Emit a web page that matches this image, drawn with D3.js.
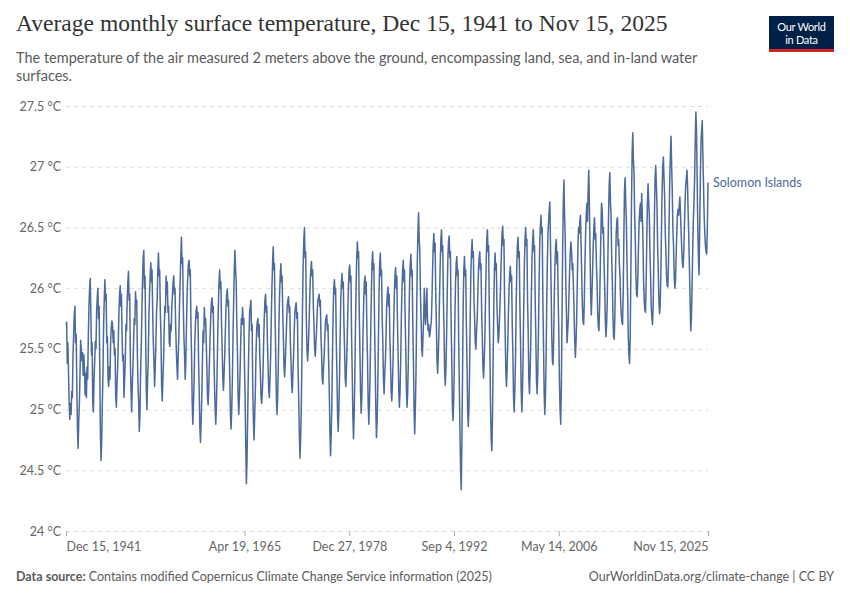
<!doctype html>
<html lang="en">
<head>
  <meta charset="utf-8">
  <title>Average monthly surface temperature</title>
  <style>
    body { margin: 0; background: #fff; }
    text { font-family: Lato, "Noto Sans", sans-serif; }
  </style>
</head>
<body>
  <script src="https://cdn.jsdelivr.net/npm/d3@7"></script>
  <script>
    // Monthly values (°C), Solomon Islands, starting Dec 15, 1941
    const firstMonth = new Date(1941, 11, 15);

    const temps1940s = [
      25.70,
      25.72, 25.38, 25.55, 25.30, 25.05, 24.92, 25.05, 24.96, 25.15, 25.10, 25.45, 25.62,
      25.78, 25.85, 25.55, 25.62, 25.20, 24.85, 24.68, 24.90, 25.05, 25.30, 25.57, 25.50,
      25.40, 25.47, 25.28, 25.45, 25.33, 25.12, 25.30, 25.10, 25.35, 25.25, 25.60, 25.85,
      26.00, 26.08, 25.80, 25.45, 25.55, 25.05, 24.98, 25.25, 25.40, 25.56, 25.50, 25.80,
      25.92, 26.00, 25.75, 25.85, 25.35, 24.80, 24.58, 24.75, 25.05, 25.30, 25.70, 25.90,
      26.07, 25.90, 25.95, 25.55, 25.60, 25.25, 25.19, 25.35, 25.25, 25.55, 25.68, 25.73,
      25.70, 25.55, 25.65, 25.45, 25.50, 25.10, 25.02, 25.20, 25.35, 25.55, 25.80, 25.95,
      26.02, 25.85, 25.95, 25.60, 25.40, 25.45, 25.10, 25.25, 25.40, 25.70, 25.65, 25.90
    ];

    const temps1950s = [
      26.05, 26.14, 25.90, 25.95, 25.40, 25.15, 24.98, 25.20, 25.35, 25.55, 25.75, 25.70,
      25.97, 25.85, 25.90, 25.45, 25.20, 25.05, 24.82, 24.95, 25.30, 25.50, 25.80, 26.05,
      26.25, 26.31, 26.00, 26.10, 25.60, 25.15, 25.00, 25.25, 25.40, 25.75, 25.95, 26.10,
      26.21, 26.05, 26.15, 25.80, 25.55, 25.40, 25.19, 25.35, 25.55, 25.80, 25.90, 26.15,
      26.29, 26.10, 26.15, 25.80, 25.60, 25.20, 25.07, 25.25, 25.40, 25.65, 25.85, 25.80,
      26.10, 25.95, 26.05, 25.80, 25.85, 25.55, 25.52, 25.70, 25.65, 25.85, 25.95, 26.05,
      26.10, 25.95, 26.00, 25.70, 25.50, 25.35, 25.25, 25.45, 25.60, 25.85, 26.05, 26.25,
      26.42, 26.20, 26.25, 25.85, 25.60, 25.45, 25.25, 25.40, 25.70, 25.95, 26.10, 26.20,
      26.23, 26.10, 26.15, 25.70, 25.45, 25.05, 24.88, 25.05, 25.25, 25.55, 25.70, 25.80,
      25.85, 25.75, 25.80, 25.40, 25.15, 24.85, 24.73, 24.90, 25.10, 25.40, 25.65, 25.55
    ];

    const temps1960s = [
      25.84, 25.70, 25.75, 25.55, 25.35, 25.10, 25.04, 25.20, 25.40, 25.60, 25.75, 25.88,
      25.92, 25.80, 25.85, 25.45, 25.20, 25.00, 24.88, 25.05, 25.30, 25.60, 25.85, 26.05,
      26.15, 26.00, 26.05, 25.70, 25.50, 25.25, 25.16, 25.30, 25.45, 25.65, 25.85, 25.95,
      25.99, 25.85, 25.90, 25.50, 25.25, 24.95, 24.84, 25.00, 25.25, 25.60, 25.90, 26.15,
      26.31, 26.15, 26.05, 25.70, 25.45, 25.10, 24.96, 25.10, 25.30, 25.55, 25.75, 25.70,
      25.84, 25.70, 25.75, 25.35, 25.10, 24.70, 24.39, 24.60, 24.95, 25.30, 25.60, 25.80,
      25.85, 25.90, 25.65, 25.70, 25.15, 24.90, 24.75, 24.95, 25.15, 25.45, 25.65, 25.72,
      25.75, 25.60, 25.70, 25.45, 25.30, 25.10, 25.05, 25.15, 25.30, 25.55, 25.75, 25.90,
      25.95, 25.80, 25.85, 25.55, 25.35, 25.15, 25.10, 25.25, 25.45, 25.75, 26.00, 26.20,
      26.34, 26.15, 26.20, 25.75, 25.45, 25.10, 24.96, 25.10, 25.35, 25.70, 25.95, 26.10
    ];

    const temps1970s = [
      26.20, 26.05, 26.10, 25.80, 25.60, 25.35, 25.27, 25.40, 25.55, 25.70, 25.85, 25.90,
      25.93, 25.80, 25.85, 25.55, 25.40, 25.20, 25.14, 25.30, 25.45, 25.65, 25.80, 25.85,
      25.88, 25.75, 25.80, 25.35, 25.10, 24.80, 24.60, 24.75, 25.00, 25.40, 25.85, 26.20,
      26.40, 26.50, 26.25, 26.30, 25.75, 25.50, 25.40, 25.50, 25.65, 25.85, 26.05, 26.15,
      26.22, 26.10, 26.15, 25.85, 25.70, 25.50, 25.44, 25.55, 25.65, 25.80, 25.90, 25.92,
      25.95, 25.85, 25.90, 25.60, 25.45, 25.25, 25.21, 25.35, 25.45, 25.60, 25.72, 25.76,
      25.78, 25.65, 25.70, 25.40, 25.15, 24.80, 24.62, 24.80, 25.05, 25.45, 25.80, 26.00,
      26.07, 25.95, 26.00, 25.55, 25.30, 24.95, 24.82, 25.00, 25.25, 25.60, 25.90, 26.05,
      26.12, 26.00, 26.05, 25.70, 25.50, 25.25, 25.19, 25.35, 25.55, 25.80, 26.00, 26.15,
      26.19, 26.05, 26.10, 25.60, 25.30, 24.95, 24.76, 24.95, 25.25, 25.65, 26.00, 26.25
    ];

    const temps1980s = [
      26.38, 26.25, 26.30, 25.80, 25.50, 25.15, 24.97, 25.10, 25.35, 25.65, 25.90, 26.05,
      26.10, 25.95, 26.05, 25.65, 25.40, 25.05, 24.88, 25.05, 25.30, 25.65, 25.95, 26.20,
      26.30, 26.15, 26.20, 25.70, 25.40, 25.00, 24.77, 24.90, 25.15, 25.55, 25.95, 26.20,
      26.29, 26.10, 26.15, 25.75, 25.55, 25.25, 25.13, 25.30, 25.40, 25.60, 25.85, 25.95,
      26.01, 25.85, 25.95, 25.60, 25.40, 25.15, 25.07, 25.20, 25.40, 25.70, 25.95, 26.10,
      26.17, 26.00, 26.10, 25.70, 25.45, 25.15, 25.02, 25.15, 25.40, 25.75, 26.00, 26.15,
      26.23, 26.05, 26.15, 25.75, 25.50, 25.15, 25.02, 25.15, 25.40, 25.75, 26.05, 26.20,
      26.28, 26.10, 26.15, 25.70, 25.40, 25.00, 24.80, 25.00, 25.30, 25.75, 26.20, 26.45,
      26.62, 26.40, 26.30, 25.95, 25.75, 25.50, 25.44, 25.60, 25.75, 26.00, 25.80, 25.70,
      25.85, 26.00, 25.75, 25.65, 25.70, 25.60, 25.62, 25.68, 25.72, 25.90, 26.15, 26.35
    ];

    const temps1990s = [
      26.45, 26.30, 26.37, 25.95, 25.70, 25.40, 25.30, 25.45, 25.65, 25.95, 26.20, 26.40,
      26.48, 26.30, 26.35, 25.90, 25.65, 25.30, 25.20, 25.35, 25.60, 25.95, 26.25, 26.38,
      26.43, 26.25, 26.30, 25.75, 25.45, 25.05, 24.91, 25.05, 25.35, 25.75, 26.05, 26.20,
      26.26, 26.10, 26.15, 25.55, 25.20, 24.80, 24.50, 24.34, 24.75, 25.30, 25.85, 26.15,
      26.26, 26.10, 26.15, 25.70, 25.40, 25.00, 24.86, 25.00, 25.30, 25.75, 26.10, 26.30,
      26.40, 26.25, 26.30, 25.90, 25.75, 25.55, 25.50, 25.65, 25.75, 25.95, 26.15, 26.25,
      26.30, 26.15, 26.20, 25.80, 25.60, 25.35, 25.26, 25.40, 25.60, 25.90, 26.20, 26.40,
      26.48, 26.30, 26.35, 25.80, 25.45, 25.00, 24.75, 24.66, 24.95, 25.40, 25.85, 26.15,
      26.29, 26.15, 26.20, 25.85, 25.70, 25.55, 25.60, 25.75, 25.90, 26.10, 26.30, 26.45,
      26.51, 26.35, 26.40, 25.90, 25.60, 25.30, 25.19, 25.35, 25.55, 25.80, 26.00, 26.12
    ];

    const temps2000s = [
      26.18, 26.05, 26.10, 25.70, 25.45, 25.10, 24.98, 25.15, 25.40, 25.80, 26.15, 26.35,
      26.42, 26.25, 26.30, 25.85, 25.55, 25.15, 24.98, 25.15, 25.45, 25.85, 26.20, 26.40,
      26.50, 26.35, 26.40, 25.90, 25.65, 25.25, 25.13, 25.30, 25.55, 25.95, 26.25, 26.40,
      26.48, 26.30, 26.35, 25.90, 25.60, 25.25, 25.13, 25.30, 25.60, 26.00, 26.35, 26.50,
      26.60, 26.45, 26.50, 25.90, 25.55, 25.15, 24.96, 25.10, 25.40, 25.85, 26.20, 26.45,
      26.55, 26.65, 26.71, 26.35, 26.00, 25.60, 25.40, 25.37, 25.60, 25.95, 26.20, 26.35,
      26.40, 26.20, 26.30, 25.95, 25.65, 25.25, 25.00, 24.88, 25.20, 25.75, 26.30, 26.70,
      26.89, 26.60, 26.45, 26.05, 25.80, 25.55, 25.65, 25.75, 25.95, 26.15, 26.30, 26.38,
      26.30, 26.15, 26.20, 26.00, 25.80, 25.55, 25.43, 25.55, 25.75, 26.05, 26.35, 26.50,
      26.45, 26.55, 26.60, 26.35, 26.10, 25.85, 25.72, 25.70, 25.90, 26.20, 26.45, 26.60
    ];

    const temps2010s = [
      26.70, 26.55, 26.80, 26.97, 26.70, 26.30, 25.95, 25.78, 25.95, 26.15, 26.35, 26.50,
      26.58, 26.40, 26.45, 26.20, 26.05, 25.80, 25.68, 25.65, 25.85, 26.15, 26.45, 26.70,
      26.65, 26.45, 26.50, 26.20, 26.00, 25.72, 25.60, 25.70, 25.90, 26.25, 26.60, 26.85,
      26.95, 26.70, 26.60, 26.25, 26.05, 25.75, 25.60, 25.58, 25.80, 26.15, 26.45, 26.55,
      26.58, 26.35, 26.40, 26.20, 26.10, 25.90, 25.78, 25.72, 25.70, 25.95, 26.40, 26.80,
      26.91, 26.70, 26.55, 26.20, 25.95, 25.60, 25.45, 25.38, 25.60, 26.10, 26.70, 27.10,
      27.28, 27.05, 26.95, 26.60, 26.40, 26.10, 25.95, 25.93, 26.10, 26.35, 26.55, 26.65,
      26.70, 26.55, 26.78, 26.60, 26.40, 26.05, 25.90, 25.82, 25.80, 26.05, 26.40, 26.70,
      26.86, 26.70, 26.60, 26.30, 26.10, 25.85, 25.75, 25.70, 25.85, 26.20, 26.60, 26.90,
      27.01, 26.85, 26.70, 26.35, 26.15, 25.90, 25.79, 25.85, 26.10, 26.45, 26.80, 27.00
    ];

    const temps2020s = [
      27.08, 26.90, 26.75, 26.45, 26.30, 26.10, 26.02, 26.01, 26.20, 26.55, 26.90, 27.10,
      27.25, 27.00, 26.80, 26.47, 26.35, 26.10, 26.00, 26.05, 26.25, 26.45, 26.60, 26.65,
      26.60, 26.70, 26.75, 26.60, 26.45, 26.30, 26.20, 26.17, 26.30, 26.50, 26.70, 26.85,
      26.90, 26.97, 26.85, 26.60, 26.40, 26.15, 25.90, 25.65, 25.75, 26.00, 26.30, 26.55,
      26.70, 26.90, 27.20, 27.45, 27.30, 26.90, 26.50, 26.25, 26.11, 26.50, 26.90, 27.20,
      27.30, 27.38, 27.10, 26.85, 26.60, 26.45, 26.35, 26.30, 26.28, 26.50, 26.87
    ];

    const seriesName = 'Solomon Islands';

    // Axis ticks
    const yTicks = [24, 24.5, 25, 25.5, 26, 26.5, 27, 27.5];
    const xTicks = [
      { date: new Date(1941, 11, 15), label: 'Dec 15, 1941' },
      { date: new Date(1965, 3, 19), label: 'Apr 19, 1965' },
      { date: new Date(1978, 11, 27), label: 'Dec 27, 1978' },
      { date: new Date(1992, 8, 4), label: 'Sep 4, 1992' },
      { date: new Date(2006, 4, 14), label: 'May 14, 2006' },
      { date: new Date(2025, 10, 15), label: 'Nov 15, 2025' }
    ];

    const values = [].concat(temps1940s, temps1950s, temps1960s, temps1970s,
                             temps1980s, temps1990s, temps2000s, temps2010s, temps2020s);
    const dataset = values.map((v, i) => ({ date: d3.timeMonth.offset(firstMonth, i), value: v }));

    const w = 850;
    const h = 600;
    const plotLeft = 66;
    const plotRight = 708;
    const plotTop = 106;
    const plotBottom = 531;
    const blue = '#4c6a9c';

    const svg = d3.select('body')
                  .append('svg')
                  .attr('width', w)
                  .attr('height', h);

    // Scales
    const xScale = d3.scaleTime()
                     .domain([xTicks[0].date, xTicks[xTicks.length - 1].date])
                     .range([plotLeft, plotRight]);

    const yScale = d3.scaleLinear()
                     .domain([24, 27.5])
                     .range([plotBottom, plotTop]);

    // Title, subtitle
    const title = svg.append('text')
       .attr('x', 16)
       .attr('y', 31)
       .style('font-family', '"Liberation Serif", "DejaVu Serif", serif')
       .style('font-size', '25px')
       .style('fill', '#333')
       .text('Average monthly surface temperature, Dec 15, 1941 to Nov 15, 2025');
    const tw = title.node().getComputedTextLength();
    title.style('font-size', (25 * 652 / tw) + 'px');

    const sub = svg.append('text')
       .style('font-size', '14.5px')
       .style('fill', '#5b5b5b');
    sub.append('tspan').attr('x', 16).attr('y', 63)
       .text('The temperature of the air measured 2 meters above the ground, encompassing land, sea, and in-land water');
    sub.append('tspan').attr('x', 16).attr('y', 81)
       .text('surfaces.');

    // Logo
    const logo = svg.append('g').attr('transform', 'translate(769, 16)');
    logo.append('rect').attr('width', 65).attr('height', 36).attr('fill', '#002147');
    logo.append('rect').attr('y', 33).attr('width', 65).attr('height', 3).attr('fill', '#ce261e');
    logo.append('text').attr('x', 32.5).attr('y', 15).attr('text-anchor', 'middle')
        .style('font-size', '11px').style('fill', '#fff').style('letter-spacing', '-0.3px')
        .text('Our World');
    logo.append('text').attr('x', 32.5).attr('y', 28).attr('text-anchor', 'middle')
        .style('font-size', '11px').style('fill', '#fff').style('letter-spacing', '-0.3px')
        .text('in Data');

    // Y grid and labels
    const yAxis = d3.axisLeft(yScale)
                    .tickValues(yTicks)
                    .tickSize(-(plotRight - plotLeft))
                    .tickPadding(5)
                    .tickFormat((d) => d + ' °C');

    svg.append('g')
       .attr('id', 'y-axis')
       .attr('transform', `translate(${plotLeft}, 0)`)
       .call(yAxis)
       .call((g) => g.select('.domain').remove())
       .call((g) => g.selectAll('.tick line')
                     .attr('stroke', '#dcdcdc')
                     .attr('stroke-dasharray', '4,4'))
       .call((g) => g.selectAll('.tick text')
                     .attr('x', -5)
                     .style('font-family', 'Lato, sans-serif')
                     .style('font-size', '12.5px')
                     .style('fill', '#666'));

    // X ticks and labels
    const xAxis = d3.axisBottom(xScale)
                    .tickValues(xTicks.map((d) => d.date))
                    .tickSize(5)
                    .tickPadding(6)
                    .tickFormat((d, i) => xTicks[i].label);

    svg.append('g')
       .attr('id', 'x-axis')
       .attr('transform', `translate(0, ${plotBottom})`)
       .call(xAxis)
       .call((g) => g.select('.domain').remove())
       .call((g) => g.selectAll('.tick line').attr('stroke', '#aaa'))
       .call((g) => g.selectAll('.tick text')
                     .style('font-family', 'Lato, sans-serif')
                     .style('font-size', '12.5px')
                     .style('fill', '#666')
                     .attr('text-anchor', (d, i) => i === 0 ? 'start' : i === xTicks.length - 1 ? 'end' : 'middle'));

    // Line
    const line = d3.line()
                   .x((d) => xScale(d.date))
                   .y((d) => yScale(d.value));

    svg.append('path')
       .datum(dataset)
       .attr('fill', 'none')
       .attr('stroke', blue)
       .attr('stroke-width', 1.5)
       .attr('stroke-linejoin', 'round')
       .attr('d', line);

    // Series label
    const last = dataset[dataset.length - 1];
    svg.append('text')
       .attr('x', xScale(last.date) + 5)
       .attr('y', yScale(last.value) + 4)
       .style('font-size', '12.5px')
       .style('fill', blue)
       .text(seriesName);

    // Footer
    const foot = svg.append('text')
       .attr('x', 16)
       .attr('y', 581)
       .style('font-size', '12.5px')
       .style('fill', '#5b5b5b');
    foot.append('tspan').style('font-weight', 'bold').text('Data source: ');
    foot.append('tspan').text('Contains modified Copernicus Climate Change Service information (2025)');

    svg.append('text')
       .attr('x', 834)
       .attr('y', 581)
       .attr('text-anchor', 'end')
       .style('font-size', '12.5px')
       .style('fill', '#5b5b5b')
       .text('OurWorldinData.org/climate-change | CC BY');
  </script>
</body>
</html>
